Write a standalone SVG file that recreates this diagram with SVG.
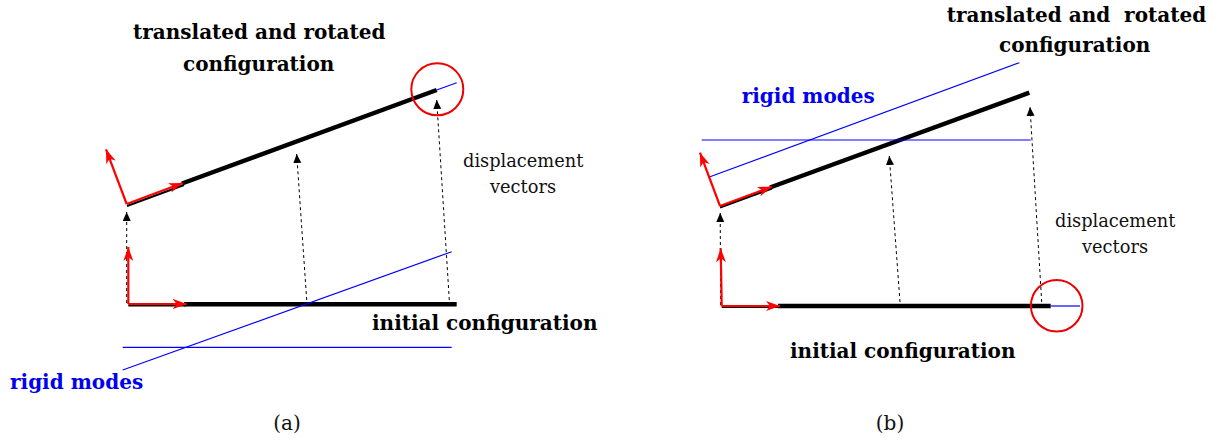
<svg xmlns="http://www.w3.org/2000/svg" width="1220" height="447" viewBox="0 0 1220 447">
<style>
.bold{font-family:"DejaVu Serif","Liberation Serif",serif;font-weight:bold;font-size:20px;fill:#000}
.reg{font-family:"DejaVu Serif","Liberation Serif",serif;font-size:17.8px;fill:#111}
.blue{fill:#0000ee}
.bar{stroke:#000;stroke-width:4.5;fill:none}
.thin{stroke:#000;stroke-width:2;fill:none}
.blu{stroke:#0000ff;stroke-width:1.2;fill:none}
.red{stroke:#ff0000;stroke-width:2.2;fill:none;marker-end:url(#ra)}
.dash{stroke:#000;stroke-width:1;stroke-dasharray:3,3;fill:none;marker-end:url(#da)}
.circ{stroke:#ee0000;stroke-width:2;fill:none}
</style>
<defs>
<marker id="ra" markerWidth="16" markerHeight="12" refX="14" refY="5" orient="auto" markerUnits="userSpaceOnUse">
<path d="M0,0 L14,5 L0,10 L4,5 z" fill="#ff0000"/>
</marker>
<marker id="da" markerWidth="10" markerHeight="10" refX="9" refY="4" orient="auto" markerUnits="userSpaceOnUse">
<path d="M0,0 L9,4 L0,8 z" fill="#000"/>
</marker>
</defs>

<g id="panel-a">
<g id="a-bars">
<line class="bar" x1="182" y1="183.5" x2="436.7" y2="90"/>
<line class="thin" x1="127" y1="206" x2="184" y2="185"/>
<line class="bar" x1="184" y1="304.3" x2="456.7" y2="304.3"/>
<line class="thin" x1="128.3" y1="305.5" x2="186" y2="305.5"/>
</g>
<g id="a-rigid">
<line class="blu" x1="436.7" y1="90" x2="456.7" y2="82.7"/>
<line class="blu" x1="122.7" y1="370" x2="451.7" y2="251.7"/>
<line class="blu" x1="122.7" y1="347.3" x2="451.7" y2="347.3"/>
</g>
<g id="a-connectors">
<line class="dash" x1="126.7" y1="303" x2="126.7" y2="212"/>
<line class="dash" x1="306.7" y1="300" x2="296.7" y2="154"/>
<line class="dash" x1="449.3" y1="300" x2="436.7" y2="100"/>
<line class="red" x1="126.7" y1="204" x2="106" y2="149.3"/>
<line class="red" x1="126.7" y1="204" x2="182.7" y2="183"/>
<line class="red" x1="128.3" y1="304" x2="128.3" y2="247"/>
<line class="red" x1="128.3" y1="304" x2="186.7" y2="304"/>
</g>
<circle class="circ" cx="437.3" cy="89.3" r="26"/>
<text class="bold" x="133" y="39">translated and rotated</text>
<text class="bold" x="183" y="71">configuration</text>
<text class="reg" x="463" y="166.5">displacement</text>
<text class="reg" x="490" y="193">vectors</text>
<text class="bold" x="372" y="330">initial configuration</text>
<text class="bold blue" x="10" y="389">rigid modes</text>
<text class="reg" x="287" y="430" text-anchor="middle" style="font-size:20px">(a)</text>
</g>

<g id="panel-b">
<g id="b-bars">
<line class="bar" x1="770" y1="187.5" x2="1029.3" y2="92.7"/>
<line class="thin" x1="720" y1="207.5" x2="772" y2="188.5"/>
<line class="bar" x1="778" y1="306" x2="1050.7" y2="306"/>
<line class="thin" x1="721.7" y1="307" x2="780" y2="307"/>
</g>
<g id="b-rigid">
<line class="blu" x1="710" y1="176.7" x2="1019.3" y2="62.7"/>
<line class="blu" x1="701.7" y1="140" x2="1030.7" y2="140"/>
<line class="blu" x1="1050.7" y1="306" x2="1080" y2="306"/>
</g>
<g id="b-connectors">
<line class="dash" x1="720.7" y1="305" x2="720.2" y2="213"/>
<line class="dash" x1="900" y1="302" x2="889.3" y2="156"/>
<line class="dash" x1="1041.7" y1="302" x2="1030" y2="107"/>
<line class="red" x1="720" y1="206" x2="700" y2="152.7"/>
<line class="red" x1="720" y1="206" x2="771.7" y2="186.7"/>
<line class="red" x1="721.7" y1="306" x2="720.7" y2="248.3"/>
<line class="red" x1="721.7" y1="306" x2="780" y2="306"/>
</g>
<circle class="circ" cx="1056.7" cy="305.7" r="25.8"/>
<text class="bold" x="946.7" y="22" xml:space="preserve">translated and  rotated</text>
<text class="bold" x="999" y="52">configuration</text>
<text class="reg" x="1055" y="226.5">displacement</text>
<text class="reg" x="1082" y="253">vectors</text>
<text class="bold" x="790" y="358">initial configuration</text>
<text class="bold blue" x="741.7" y="103">rigid modes</text>
<text class="reg" x="890" y="430" text-anchor="middle" style="font-size:20px">(b)</text>
</g>
</svg>
